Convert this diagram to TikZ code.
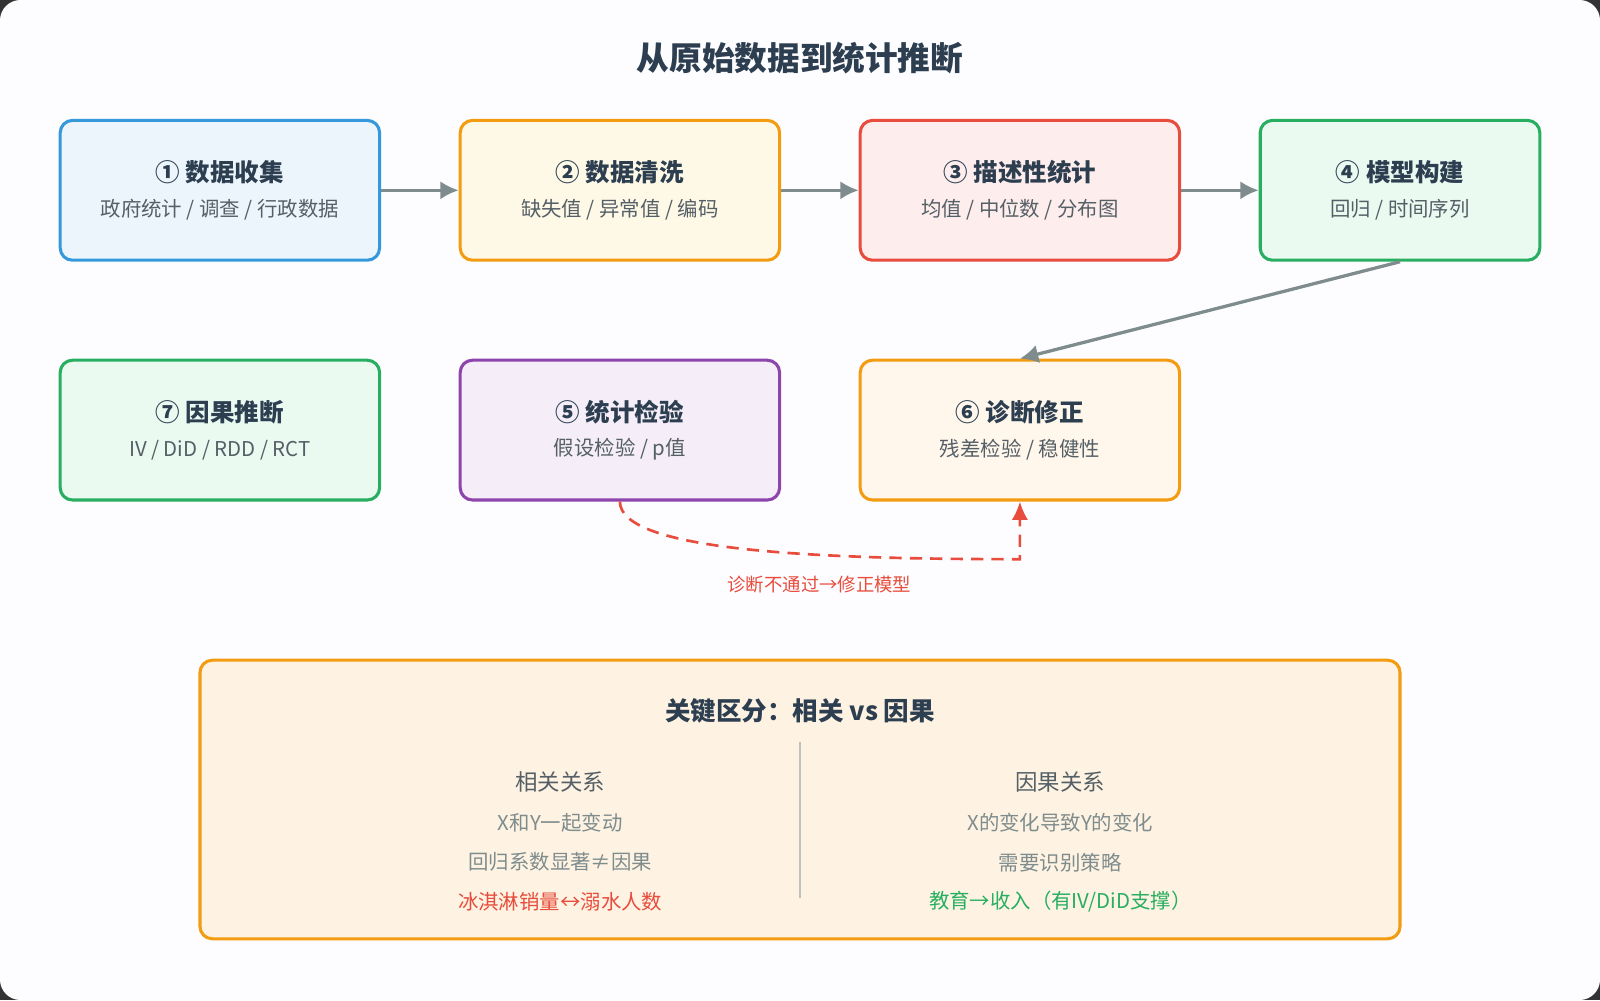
\documentclass[tikz,border=0pt]{standalone}
\usepackage{fontspec}
\setmainfont{Noto Sans CJK SC}
\usetikzlibrary{arrows.meta,positioning}
\definecolor{ink}{HTML}{2C3E50}
\definecolor{sub}{HTML}{555F66}
\definecolor{flow}{HTML}{7F8C8D}
\definecolor{bBlue}{HTML}{3498DB}\definecolor{fBlue}{HTML}{EBF5FB}
\definecolor{bOrange}{HTML}{F39C12}\definecolor{fOrange}{HTML}{FEF9E7}
\definecolor{bRed}{HTML}{E74C3C}\definecolor{fRed}{HTML}{FDEDEC}
\definecolor{bGreen}{HTML}{27AE60}\definecolor{fGreen}{HTML}{EAFAF1}
\definecolor{bPurple}{HTML}{8E44AD}\definecolor{fPurple}{HTML}{F5EEF8}
\definecolor{fPeach}{HTML}{FEF3E2}
\tikzset{
  step/.style 2 args={draw=#1,fill=#2,line width=1.5pt,rounded corners=6pt,
    minimum width=156.5pt,minimum height=68.5pt,align=center,text=ink},
  flowarrow/.style={draw=flow,line width=1.6pt,-{Latex[length=9pt,width=9pt]}},
  hd/.style={font=\fontsize{12}{14}\selectfont\bfseries},
  sb/.style={font=\fontsize{10}{12}\selectfont,text=sub},
}
\newcommand{\stepbox}[2]{{\fontsize{12}{15}\selectfont\bfseries #1}\\[5pt]{\fontsize{10}{12}\selectfont\color{sub}#2}}
\begin{document}
\begin{tikzpicture}[x=0.5pt,y=-0.5pt]
\useasboundingbox (0,0) rectangle (1568,980);
\fill[black!80] (0,0) rectangle (1568,980);
\fill[white!97!blue!30!white,rounded corners=10pt] (0,0) rectangle (1568,980);
%% title
\node (title) at (784,57) [font=\fontsize{16}{18}\selectfont\bfseries,text=ink] {从原始数据到统计推断};
%% row 1
\node (s1) at (215.5,186.5) [step={bBlue}{fBlue}] {\stepbox{① 数据收集}{政府统计 / 调查 / 行政数据}};
\node (s2) at (607.5,186.5) [step={bOrange}{fOrange}] {\stepbox{② 数据清洗}{缺失值 / 异常值 / 编码}};
\node (s3) at (999.5,186.5) [step={bRed}{fRed}] {\stepbox{③ 描述性统计}{均值 / 中位数 / 分布图}};
\node (s4) at (1372,186.5) [step={bGreen}{fGreen},minimum width=137pt] {\stepbox{④ 模型构建}{回归 / 时间序列}};
%% row 2
\node (s7) at (215.5,421.5) [step={bGreen}{fGreen}] {\stepbox{⑦ 因果推断}{IV / DiD / RDD / RCT}};
\node (s5) at (607.5,421.5) [step={bPurple}{fPurple}] {\stepbox{⑤ 统计检验}{假设检验 / p值}};
\node (s6) at (999.5,421.5) [step={bOrange}{fOrange!70!orange!20}] {\stepbox{⑥ 诊断修正}{残差检验 / 稳健性}};
%% arrows
\draw[flowarrow] (s1) -- (s2);
\draw[flowarrow] (s2) -- (s3);
\draw[flowarrow] (s3) -- (s4);
\draw[flowarrow] (s4.south) -- (s6.north);
\coordinate (bend) at (999.5,548);
\draw[draw=bRed,line width=1.3pt,dash pattern=on 6pt off 4pt,-{Latex[length=9pt,width=8pt]}]
  (s5.south) .. controls (607.5,540) and (800,548) .. (bend) -- (s6.south);
\node (loop) at (803,573) [font=\fontsize{9}{11}\selectfont,text=bRed] {诊断不通过→修正模型};
%% bottom panel
\node (panel) at (784,783.5) [draw=bOrange,fill=fPeach,line width=1.5pt,rounded corners=6pt,
  minimum width=588pt,minimum height=136.5pt] {};
\node (ptitle) at (784,697) [font=\fontsize{12.5}{14}\selectfont\bfseries,text=ink] {关键区分：相关 vs 因果};
\coordinate (divtop) at (784,727);
\coordinate (divbot) at (784,880);
\draw[black!25,line width=0.6pt] (divtop) -- (divbot);
\node (c1) at (549,766) [font=\fontsize{11}{13}\selectfont,text=sub] {相关关系};
\node (c2) at (549,806) [sb,text=flow] {X和Y一起变动};
\node (c3) at (549,845) [sb,text=flow] {回归系数显著≠因果};
\node (c4) at (549,884) [sb,text=bRed] {冰淇淋销量↔溺水人数};
\node (d1) at (1039,766) [font=\fontsize{11}{13}\selectfont,text=sub] {因果关系};
\node (d2) at (1039,806) [sb,text=flow] {X的变化导致Y的变化};
\node (d3) at (1039,845) [sb,text=flow] {需要识别策略};
\node (d4) at (1039,884) [sb,text=bGreen] {教育→收入（有IV/DiD支撑）};
\end{tikzpicture}
\end{document}
